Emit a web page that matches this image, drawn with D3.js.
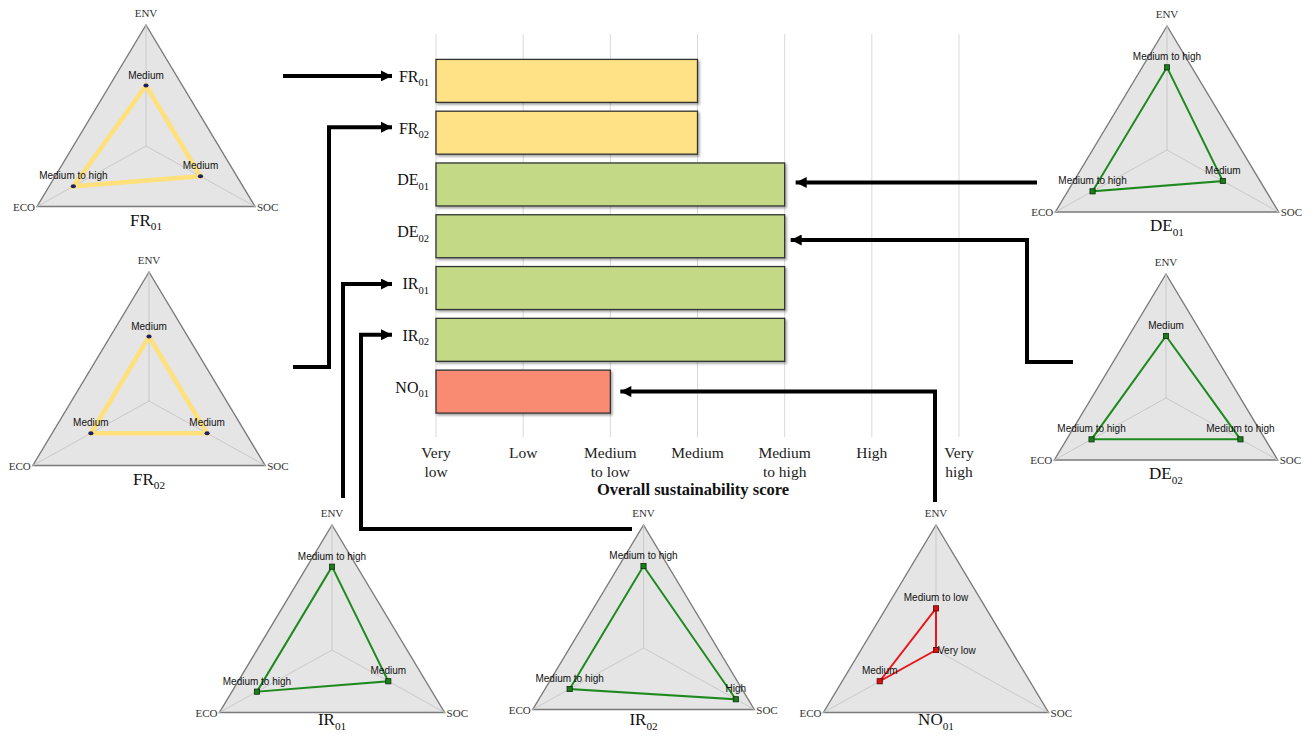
<!DOCTYPE html>
<html>
<head>
<meta charset="utf-8">
<script src="https://cdn.jsdelivr.net/npm/d3@7"></script>
<style>
  body { margin: 0; background: #fff; }
  svg { display: block; }
</style>
</head>
<body>
<svg id="chart" width="1313" height="736"></svg>
<script>
// ---- data ----
var categories = ["FR01", "FR02", "DE01", "DE02", "IR01", "IR02", "NO01"];
var overallScore = [3, 3, 4, 4, 4, 4, 2];
var levelLabels = ["Very low", "Low", "Medium to low", "Medium", "Medium to high", "High", "Very high"];
var dimensions = ["ENV", "SOC", "ECO"];
var envScore = [3, 3, 4, 3, 4, 4, 2];
var socScore = [3, 3, 3, 4, 3, 5, 0];
var ecoScore = [4, 3, 4, 4, 4, 4, 3];

// ---- styles / layout ----
var styles = {
  FR: { bar: "#FFE285", line: "#FFE07A", lw: 4.5, mark: "#1c2166", markStroke: "#0b0d33", shape: "dot" },
  DE: { bar: "#C3D986", line: "#1E8A1E", lw: 2, mark: "#1d7a1d", markStroke: "#0b300b", shape: "sq" },
  IR: { bar: "#C3D986", line: "#1E8A1E", lw: 2, mark: "#1d7a1d", markStroke: "#0b300b", shape: "sq" },
  NO: { bar: "#F98B73", line: "#E8171C", lw: 2, mark: "#d41010", markStroke: "#5a0606", shape: "sq" }
};
// radar placement: centre, radius (one per category, same order)
var radarLayout = [
  { cx: 146, cy: 146, R: 121 },
  { cx: 149, cy: 401, R: 129 },
  { cx: 1167, cy: 150, R: 124 },
  { cx: 1166, cy: 398, R: 124 },
  { cx: 332, cy: 650, R: 125 },
  { cx: 643.5, cy: 648, R: 123 },
  { cx: 936, cy: 650, R: 125 }
];
var stretchX = 1.04;
var serif = "'Liberation Serif', 'Times New Roman', serif";
var sans = "'Liberation Sans', Arial, sans-serif";

var svg = d3.select("#chart");
svg.append("rect").attr("width", 1313).attr("height", 736).attr("fill", "#fff");

var defs = svg.append("defs");
var shadow = defs.append("filter").attr("id", "shadow")
  .attr("x", "-5%").attr("y", "-10%").attr("width", "115%").attr("height", "140%");
shadow.append("feDropShadow").attr("dx", 1.6).attr("dy", 1.8)
  .attr("stdDeviation", 1).attr("flood-color", "#000").attr("flood-opacity", 0.35);
defs.append("marker").attr("id", "arrow")
  .attr("viewBox", "0 0 10 10").attr("refX", 10).attr("refY", 5)
  .attr("markerUnits", "userSpaceOnUse")
  .attr("markerWidth", 13).attr("markerHeight", 11).attr("orient", "auto")
  .append("path").attr("d", "M0,0 L10,5 L0,10 Z").attr("fill", "#000");

function group(cat) { return cat.slice(0, 2); }

// label with subscript digits
function subLabel(sel, cat, size) {
  sel.append("tspan").text(cat.slice(0, 2));
  sel.append("tspan").text(cat.slice(2)).attr("font-size", size * 0.66).attr("dy", size * 0.28);
}

// ---- bar chart ----
var x = d3.scaleLinear().domain([0, 6]).range([436, 959]);
var y = d3.scaleBand().domain(categories).range([55, 417.5]).paddingInner(0.17).paddingOuter(0.085);

var grid = svg.append("g");
grid.selectAll("line").data(d3.range(0, 7)).enter().append("line")
  .attr("x1", function(d) { return x(d); }).attr("x2", function(d) { return x(d); })
  .attr("y1", 34).attr("y2", 437)
  .attr("stroke", "#d9d9d9").attr("stroke-width", 1);

var bars = svg.append("g");
bars.selectAll("rect").data(categories).enter().append("rect")
  .attr("x", x(0))
  .attr("y", function(d) { return y(d); })
  .attr("width", function(d, i) { return x(overallScore[i]) - x(0); })
  .attr("height", y.bandwidth())
  .attr("fill", function(d) { return styles[group(d)].bar; })
  .attr("stroke", "#333").attr("stroke-width", 1.3)
  .attr("filter", "url(#shadow)");

var catLabels = svg.append("g").attr("font-family", serif).attr("font-size", 16).attr("fill", "#111");
categories.forEach(function(c) {
  var t = catLabels.append("text").attr("x", 429).attr("y", y(c) + y.bandwidth() / 2 + 1)
    .attr("text-anchor", "end");
  subLabel(t, c, 16);
});

var ticks = svg.append("g").attr("font-family", serif).attr("font-size", 15.5).attr("fill", "#222")
  .attr("text-anchor", "middle");
levelLabels.forEach(function(lab, i) {
  var sp = lab.indexOf(" ");
  var lines = sp < 0 ? [lab] : [lab.slice(0, sp), lab.slice(sp + 1)];
  lines.forEach(function(l, j) {
    ticks.append("text").attr("x", x(i)).attr("y", 458 + j * 19).text(l);
  });
});

svg.append("text").attr("x", 693).attr("y", 495)
  .attr("text-anchor", "middle").attr("font-family", serif).attr("font-size", 16.5)
  .attr("font-weight", "bold").attr("fill", "#111")
  .text("Overall sustainability score");

// ---- radar charts ----
var angles = [-Math.PI / 2, Math.PI / 6, 5 * Math.PI / 6]; // ENV, SOC, ECO
var radarLine = d3.line().curve(d3.curveLinearClosed);

function drawRadar(i) {
  var L = radarLayout[i], st = styles[group(categories[i])];
  var r = d3.scaleLinear().domain([0, 6]).range([0, L.R]);
  var pt = function(k, v) {
    return [L.cx + stretchX * r(v) * Math.cos(angles[k]), L.cy + r(v) * Math.sin(angles[k])];
  };
  var g = svg.append("g");
  var outer = dimensions.map(function(d, k) { return pt(k, 6); });
  g.append("path").attr("d", radarLine(outer))
    .attr("fill", "#e5e5e5").attr("stroke", "#7a7a7a").attr("stroke-width", 1.4);
  outer.forEach(function(p) {
    g.append("line").attr("x1", L.cx).attr("y1", L.cy).attr("x2", p[0]).attr("y2", p[1])
      .attr("stroke", "#c9c9c9").attr("stroke-width", 1);
  });
  // axis names
  var axTxt = g.append("g").attr("font-family", serif).attr("font-size", 11).attr("fill", "#333");
  axTxt.append("text").attr("x", outer[0][0]).attr("y", outer[0][1] - 8)
    .attr("text-anchor", "middle").text(dimensions[0]);
  axTxt.append("text").attr("x", outer[1][0] + 2).attr("y", outer[1][1] + 4)
    .attr("text-anchor", "start").text(dimensions[1]);
  axTxt.append("text").attr("x", outer[2][0] - 2).attr("y", outer[2][1] + 4)
    .attr("text-anchor", "end").text(dimensions[2]);

  var vals = [envScore[i], socScore[i], ecoScore[i]];
  var pts = vals.map(function(v, k) { return pt(k, v); });
  if (st.shape === "dot") {
    g.append("path").attr("d", radarLine(pts)).attr("fill", "none")
      .attr("stroke", st.mark).attr("stroke-width", 1);
  }
  g.append("path").attr("d", radarLine(pts)).attr("fill", "none")
    .attr("stroke", st.line).attr("stroke-width", st.lw).attr("stroke-linejoin", "miter");
  pts.forEach(function(p) {
    if (st.shape === "dot") {
      g.append("ellipse").attr("cx", p[0]).attr("cy", p[1]).attr("rx", 2.6).attr("ry", 2)
        .attr("fill", st.mark);
    } else {
      g.append("rect").attr("x", p[0] - 2.6).attr("y", p[1] - 2.6).attr("width", 5.2).attr("height", 5.2)
        .attr("fill", st.mark).attr("stroke", st.markStroke).attr("stroke-width", 0.8);
    }
  });
  var lab = g.append("g").attr("font-family", sans).attr("font-size", 10).attr("fill", "#111");
  vals.forEach(function(v, k) {
    var p = pts[k];
    if (v === 0) {
      lab.append("text").attr("x", p[0] + 2).attr("y", p[1] + 3.5).text(levelLabels[v]);
    } else {
      lab.append("text").attr("x", p[0]).attr("y", p[1] - 7).attr("text-anchor", "middle").text(levelLabels[v]);
    }
  });
  // keep bottom-row titles inside the picture
  var ty = Math.min(L.cy + L.R / 2 + 19, 725);
  var title = g.append("text").attr("x", L.cx).attr("y", ty)
    .attr("text-anchor", "middle").attr("font-family", serif).attr("font-size", 17).attr("fill", "#111");
  subLabel(title, categories[i], 17);
}
categories.forEach(function(c, i) { drawRadar(i); });

// ---- connector arrows (radar -> bar) ----
function cy(c) { return y(c) + y.bandwidth() / 2; }
var arrows = [
  [[283, cy("FR01") - 5], [392, cy("FR01") - 5]],
  [[293, 367], [329, 367], [329, cy("FR02") - 5.5], [392, cy("FR02") - 5.5]],
  [[343, 498], [343, cy("IR01") - 4], [392, cy("IR01") - 4]],
  [[632, 529], [361, 529], [361, cy("IR02") - 5], [392, cy("IR02") - 5]],
  [[935, 502], [935, cy("NO01")], [x(overallScore[6]) + 10, cy("NO01")]],
  [[1037, 182.5], [x(overallScore[2]) + 11, 182.5]],
  [[1073, 362], [1027, 362], [1027, 240], [x(overallScore[3]) + 6, 240]]
];
svg.append("g").selectAll("path").data(arrows).enter().append("path")
  .attr("d", function(d) { return d3.line()(d); })
  .attr("fill", "none").attr("stroke", "#000").attr("stroke-width", 4)
  .attr("stroke-linejoin", "miter")
  .attr("marker-end", "url(#arrow)");
</script>
</body>
</html>
